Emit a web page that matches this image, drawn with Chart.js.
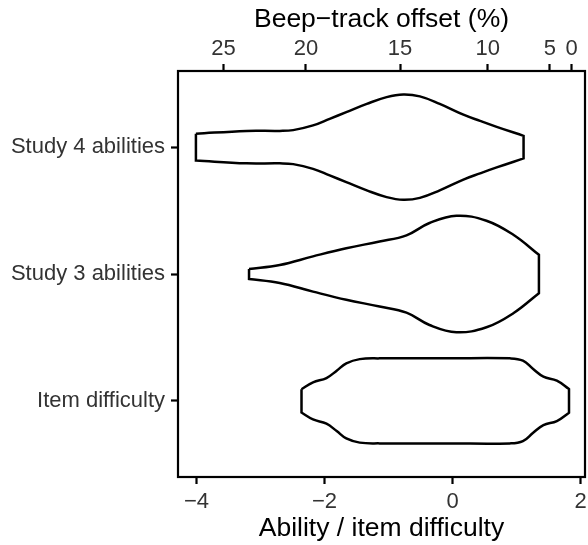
<!DOCTYPE html>
<html>
<head>
<meta charset="utf-8">
<script src="https://cdn.jsdelivr.net/npm/chart.js@4"></script>
<style>
body { margin: 0; background: #fff; }
</style>
</head>
<body>
<canvas id="myChart" width="588" height="545"></canvas>
<script>
// categories, bottom to top
var categories = ['Item difficulty', 'Study 3 abilities', 'Study 4 abilities'];

// violin outlines: position on the ability scale and half width (in category units)
var study4X    = [-4.01, -3.22, -2.70, -2.49, -2.18, -1.92, -1.66, -1.34, -1.03, -0.77, -0.51, -0.20, 0.17, 0.43, 0.69, 1.11];
var study4Half = [0.105, 0.128, 0.128, 0.134, 0.171, 0.223, 0.276, 0.341, 0.394, 0.415, 0.400, 0.341, 0.256, 0.207, 0.160, 0.089];

var study3X    = [-3.18, -2.70, -2.18, -1.66, -1.14, -0.72, -0.36, 0.06, 0.53, 0.95, 1.35];
var study3Half = [0.039, 0.071, 0.139, 0.203, 0.256, 0.305, 0.402, 0.459, 0.420, 0.309, 0.151];

var itemX    = [-2.36, -2.18, -1.97, -1.81, -1.66, -1.45, -1.14, -0.09, 0.90, 1.10, 1.26, 1.42, 1.63, 1.82];
var itemHalf = [0.092, 0.146, 0.180, 0.238, 0.296, 0.329, 0.335, 0.335, 0.335, 0.317, 0.251, 0.191, 0.159, 0.093];

// axis ticks
var bottomTicks = [-4, -2, 0, 2];
var topTickLabels = [25, 20, 15, 10, 5, 0];
var topTickPos = [-3.58, -2.29, -0.82, 0.55, 1.52, 1.86];

var xMin = -4.29, xMax = 2.07;

function outline(xs, halfs, center) {
    var pts = [];
    var n = xs.length;
    pts.push({x: xs[0], y: center + halfs[0]});
    for (var i = 0; i < n; i++) pts.push({x: xs[i], y: center + halfs[i]});
    pts.push({x: xs[n - 1], y: center + halfs[n - 1]});
    pts.push({x: xs[n - 1], y: center - halfs[n - 1]});
    for (var j = n - 1; j >= 0; j--) pts.push({x: xs[j], y: center - halfs[j]});
    pts.push({x: xs[0], y: center - halfs[0]});
    pts.push({x: xs[0], y: center + halfs[0]});
    pts.push({x: xs[0], y: center + halfs[0]});
    return pts;
}

function violin(pts) {
    return {
        data: pts,
        borderColor: '#000',
        backgroundColor: '#fff',
        borderWidth: 2.5,
        pointRadius: 0,
        tension: 0.4,
        fill: false
    };
}

var fontFamily = "'Liberation Sans', Arial, sans-serif";
var tickFont = {family: fontFamily, size: 22};
var titleFont = {family: fontFamily, size: 26.5};

var boxPlugin = {
    id: 'box',
    afterDraw: function(chart) {
        var a = chart.chartArea;
        var ctx = chart.ctx;
        ctx.save();
        ctx.strokeStyle = '#000';
        ctx.lineWidth = 2.2;
        ctx.strokeRect(a.left, a.top, a.right - a.left, a.bottom - a.top);
        ctx.restore();
    }
};

var tickGrid = {
    drawOnChartArea: false,
    drawTicks: true,
    tickLength: 7,
    tickWidth: 2.2,
    tickColor: '#000'
};

function fitX(h) {
    return function(scale) {
        scale.height = h;
        scale.paddingLeft = 0;
        scale.paddingRight = 0;
    };
}

var ctx = document.getElementById('myChart');
var myChart = new Chart(ctx, {
    type: 'line',
    data: {
        datasets: [
            violin(outline(itemX, itemHalf, 1)),
            violin(outline(study3X, study3Half, 2)),
            violin(outline(study4X, study4Half, 3))
        ]
    },
    options: {
        responsive: false,
        animation: false,
        layout: { padding: { left: 0, right: 3, top: 0, bottom: 0 } },
        plugins: {
            legend: { display: false },
            tooltip: { enabled: false }
        },
        scales: {
            x: {
                type: 'linear',
                position: 'bottom',
                min: xMin,
                max: xMax,
                afterBuildTicks: function(scale) {
                    scale.ticks = bottomTicks.map(function(v) { return {value: v}; });
                },
                afterFit: fitX(68),
                ticks: {
                    color: '#333',
                    font: tickFont,
                    padding: 5,
                    maxRotation: 0,
                    callback: function(v) { return v < 0 ? '\u2212' + Math.abs(v) : String(v); }
                },
                grid: tickGrid,
                border: { display: false },
                title: {
                    display: true,
                    text: 'Ability / item difficulty',
                    color: '#000',
                    font: titleFont,
                    padding: { top: 0, bottom: 0 }
                }
            },
            x2: {
                type: 'linear',
                position: 'top',
                min: xMin,
                max: xMax,
                afterBuildTicks: function(scale) {
                    scale.ticks = topTickPos.map(function(v) { return {value: v}; });
                },
                afterFit: fitX(71),
                ticks: {
                    color: '#333',
                    font: tickFont,
                    padding: 2,
                    maxRotation: 0,
                    autoSkip: false,
                    callback: function(v, i) { return String(topTickLabels[i]); }
                },
                grid: tickGrid,
                border: { display: false },
                title: {
                    display: true,
                    text: 'Beep\u2212track offset (%)',
                    color: '#000',
                    font: titleFont,
                    padding: { top: 4, bottom: 0 }
                }
            },
            y: {
                type: 'linear',
                min: 0.4,
                max: 3.6,
                afterBuildTicks: function(scale) {
                    scale.ticks = [1, 2, 3].map(function(v) { return {value: v}; });
                },
                afterFit: function(scale) {
                    scale.width = 178;
                    scale.paddingTop = 0;
                    scale.paddingBottom = 0;
                },
                ticks: {
                    color: '#333',
                    font: tickFont,
                    padding: 6,
                    callback: function(v) { return categories[v - 1]; }
                },
                grid: tickGrid,
                border: { display: false }
            }
        }
    },
    plugins: [boxPlugin]
});
</script>
</body>
</html>
